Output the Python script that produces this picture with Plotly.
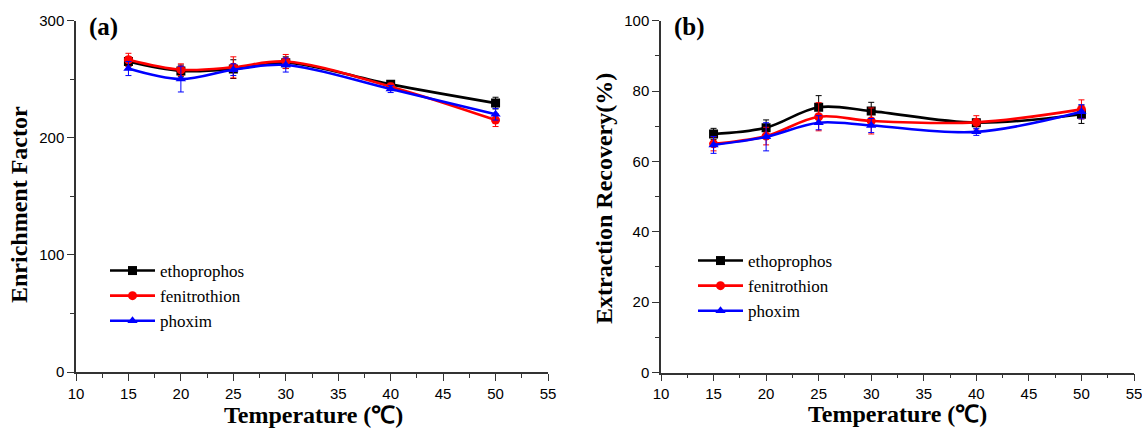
import plotly.graph_objects as go

# Extraction temperature (°C)
temps = [15, 20, 25, 30, 40, 50]

# (a) Enrichment factor
ef_ethoprophos = [265, 257, 258.5, 264, 245.5, 229.5]
ef_fenitrothion = [266.5, 258, 260, 265, 243.5, 215]
ef_phoxim = [259, 250, 258, 262, 241.5, 220]
ef_err_ethoprophos = [4, 5, 8, 5, 3, 5]
ef_err_fenitrothion = [5.5, 5, 9, 6, 3, 5.5]
ef_err_phoxim = [6, 11, 5, 6, 3, 5]

# (b) Extraction recovery (%)
er_ethoprophos = [67.8, 69.6, 75.4, 74.3, 71.0, 73.4]
er_fenitrothion = [65.0, 67.2, 72.7, 71.5, 71.1, 74.8]
er_phoxim = [64.7, 67.0, 71.0, 70.2, 68.4, 74.1]
er_err_ethoprophos = [1.6, 2.2, 3.3, 2.5, 1.0, 2.6]
er_err_fenitrothion = [2.0, 2.5, 4.0, 3.7, 1.9, 2.7]
er_err_phoxim = [2.4, 4.0, 2.0, 2.0, 1.0, 2.0]

names = ["ethoprophos", "fenitrothion", "phoxim"]
colors = ["#000000", "#ff0000", "#0000ff"]
symbols = ["square", "circle", "triangle-up"]

x_ticks = [10, 15, 20, 25, 30, 35, 40, 45, 50, 55]

W, H = 1142, 429
serif = "Liberation Serif, Times New Roman, serif"
sans = "Liberation Sans, Arial, sans-serif"

fig = go.Figure()

panels = [
    ("x", "y", "legend",
     [ef_ethoprophos, ef_fenitrothion, ef_phoxim],
     [ef_err_ethoprophos, ef_err_fenitrothion, ef_err_phoxim]),
    ("x2", "y2", "legend2",
     [er_ethoprophos, er_fenitrothion, er_phoxim],
     [er_err_ethoprophos, er_err_fenitrothion, er_err_phoxim]),
]

for xa, ya, leg, series, errs in panels:
    for name, color, sym, vals, err in zip(names, colors, symbols, series, errs):
        fig.add_trace(go.Scatter(
            x=temps, y=vals, name=name, legend=leg,
            xaxis=xa, yaxis=ya,
            mode="lines+markers",
            line=dict(color=color, width=2.6, shape="spline", smoothing=1.0),
            marker=dict(symbol=sym, size=9, color=color),
            error_y=dict(type="data", array=err, visible=True,
                         color=color, thickness=1, width=3),
        ))

px = lambda v: v / W
py = lambda v: 1 - v / H

axis_common = dict(
    showline=True, linecolor="#333333", linewidth=1.5,
    ticks="outside", ticklen=7, tickwidth=1.3, tickcolor="#333333",
    showgrid=False, zeroline=False, ticklabeloverflow="allow",
    tickfont=dict(family=sans, size=15, color="#000000"),
    minor=dict(ticks="outside", ticklen=4, tickwidth=1.2, tickcolor="#333333"),
)

legend_font = dict(family=serif, size=17, color="#000")

fig.update_layout(
    width=W, height=H,
    margin=dict(l=0, r=0, t=0, b=0, autoexpand=False),
    paper_bgcolor="white", plot_bgcolor="white",
    xaxis=dict(domain=[px(76), px(548)], range=[10, 55], anchor="y",
               tickvals=x_ticks, **axis_common),
    yaxis=dict(domain=[py(372), py(20.5)], range=[0, 300], anchor="x",
               tickvals=[0, 100, 200, 300], **axis_common),
    xaxis2=dict(domain=[px(661), px(1134)], range=[10, 55], anchor="y2",
                tickvals=x_ticks, **axis_common),
    yaxis2=dict(domain=[py(372.5), py(20.7)], range=[0, 100], anchor="x2",
                tickvals=[0, 20, 40, 60, 80, 100], **axis_common),
    legend=dict(x=px(105), y=py(253), xanchor="left", yanchor="top",
                bgcolor="rgba(0,0,0,0)", font=legend_font,
                tracegroupgap=0, itemwidth=45),
    legend2=dict(x=px(693), y=py(243), xanchor="left", yanchor="top",
                 bgcolor="rgba(0,0,0,0)", font=legend_font,
                 tracegroupgap=0, itemwidth=45),
    showlegend=True,
)

fig.update_xaxes(minor_dtick=2.5, minor_tick0=10)
fig.layout.yaxis.minor.dtick = 50
fig.layout.yaxis2.minor.dtick = 10

title_font = dict(family=serif, size=24, color="#000000", weight="bold")
annotations = [
    dict(text="(a)", x=px(87), y=py(27), xanchor="left", yanchor="middle",
         font=dict(family=serif, size=25, color="#000", weight="bold")),
    dict(text="(b)", x=px(672), y=py(27), xanchor="left", yanchor="middle",
         font=dict(family=serif, size=25, color="#000", weight="bold")),
    dict(text="Enrichment Factor", x=px(19), y=py(205), textangle=-90,
         xanchor="center", yanchor="middle", font=title_font),
    dict(text="Extraction Recovery(%)", x=px(604), y=py(199), textangle=-90,
         xanchor="center", yanchor="middle", font=title_font),
    dict(text="Temperature (℃)", x=px(313), y=py(415), xanchor="center",
         yanchor="middle", font=title_font),
    dict(text="Temperature (℃)", x=px(897), y=py(414), xanchor="center",
         yanchor="middle", font=title_font),
]
for a in annotations:
    a.update(xref="paper", yref="paper", showarrow=False)
fig.update_layout(annotations=annotations)

fig.write_html("out.html")
